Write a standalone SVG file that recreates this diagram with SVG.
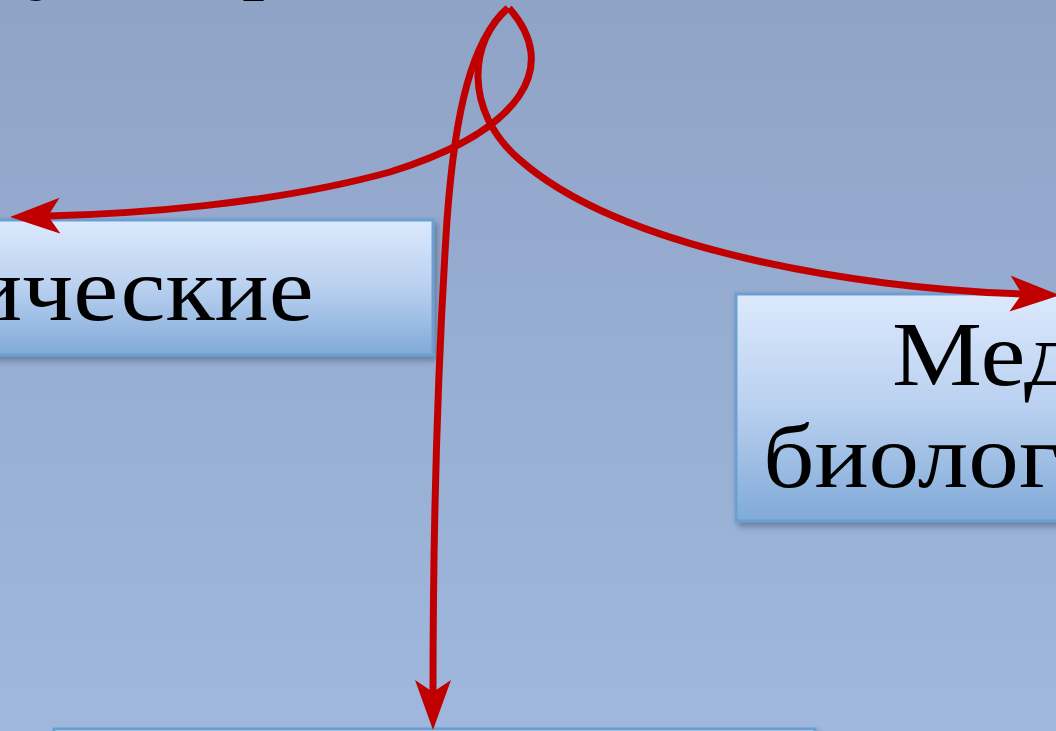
<svg xmlns="http://www.w3.org/2000/svg" width="1056" height="731" viewBox="0 0 1056 731">
<defs>
<linearGradient id="bg" x1="0" y1="0" x2="0" y2="1">
<stop offset="0" stop-color="#8fa3c6"/>
<stop offset="1" stop-color="#a0b8de"/>
</linearGradient>
<linearGradient id="boxg" x1="0" y1="0" x2="0" y2="1">
<stop offset="0" stop-color="#dce9fd"/>
<stop offset="0.5" stop-color="#b9d0ef"/>
<stop offset="1" stop-color="#80aad8"/>
</linearGradient>
<filter id="sh" x="-10%" y="-10%" width="130%" height="140%">
<feDropShadow dx="3" dy="4" stdDeviation="3" flood-color="#2c3c5a" flood-opacity="0.45"/>
</filter>
<marker id="ah" markerUnits="userSpaceOnUse" markerWidth="52" markerHeight="40" viewBox="0 0 52 36" refX="12" refY="18" orient="auto">
<path d="M0,0 L50,18 L0,36 L12,18 Z" fill="#c00000"/>
</marker>
<style>
.box{fill:url(#boxg);stroke:#6a9fd0;stroke-width:3;filter:url(#sh)}
.t{font-family:"Liberation Serif","DejaVu Serif",serif;font-size:92px;fill:#000}
.c{fill:none;stroke:#c00000;stroke-width:7;marker-end:url(#ah)}
</style>
</defs>
<rect width="1056" height="731" fill="url(#bg)"/>
<g id="title">
<text class="t" x="28" y="-18">у</text>
<text class="t" x="242" y="-18">р</text>
</g>
<g id="node-left">
<rect class="box" x="-10" y="220" width="443" height="135"/>
<text class="t" transform="scale(1.1,1)" x="-29" y="320">ические</text>
</g>
<g id="node-right">
<rect class="box" x="736" y="294" width="340" height="227"/>
<text class="t" transform="scale(1.1,1)" x="810.9" y="385">Мед</text>
<text class="t" transform="scale(1.1,1)" x="693.6" y="487">биологи</text>
</g>
<g id="node-bottom">
<rect class="box" x="54" y="729" width="761" height="80"/>
</g>
<g id="connectors">
<path class="c" d="M509,8 C560,65 525,130 390,172 C270,205 130,214 48,216"/>
<path class="c" d="M508,8 C470,40 462,110 520,160 C620,248 850,288 1022,294"/>
<path class="c" d="M507,9 C472,40 455,110 447,220 C438,360 433,520 433,692"/>
</g>
</svg>
